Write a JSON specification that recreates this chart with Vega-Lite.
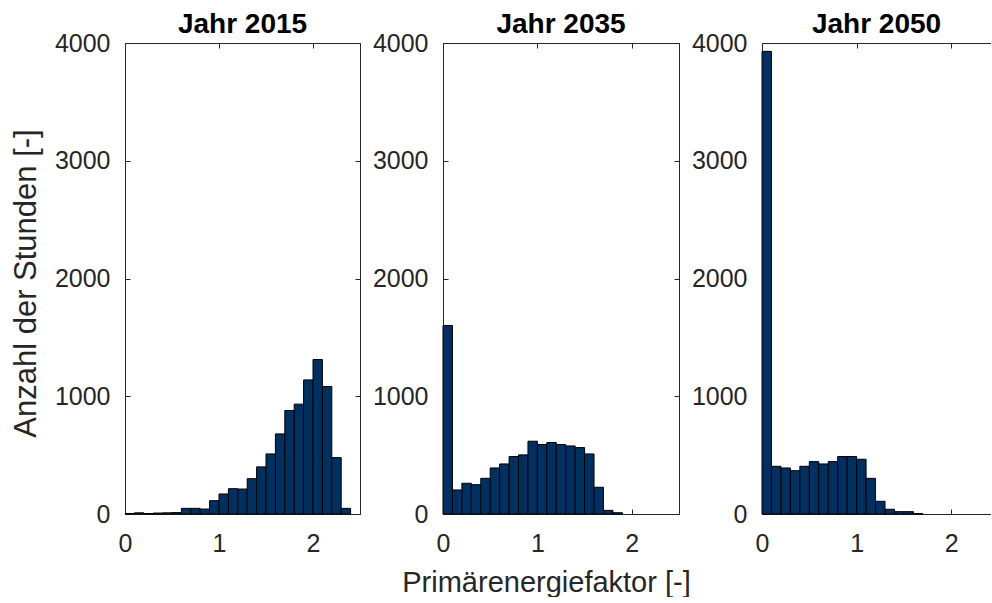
{
  "$schema": "https://vega.github.io/schema/vega-lite/v6.json",
  "padding": {"left": 10, "top": 10, "right": 0, "bottom": 0},
  "autosize": {"type": "pad"},
  "spacing": 83,
  "bounds": "flush",
  "config": {
    "view": {"stroke": null},
    "font": "Liberation Sans",
    "axis": {
      "grid": false,
      "labelFontSize": 25,
      "labelColor": "#262626",
      "labelFont": "Liberation Sans",
      "labelFlush": false,
      "labelOverlap": false,
      "domainColor": "#262626",
      "tickColor": "#262626",
      "domainWidth": 1,
      "tickWidth": 1,
      "tickSize": -5,
      "titleFontSize": 29,
      "titleFontWeight": "normal",
      "titleColor": "#262626",
      "titleFont": "Liberation Sans",
      "format": "d"
    },
    "axisX": {"labelPadding": 22},
    "axisY": {"labelPadding": 20},
    "title": {"fontSize": 28, "fontWeight": "bold", "color": "#000000", "font": "Liberation Sans", "offset": -7.5}
  },
  "data": {
    "values": [
      {"year": 2015, "start": 0.0, "end": 0.1, "count": 4},
      {"year": 2015, "start": 0.1, "end": 0.2, "count": 10},
      {"year": 2015, "start": 0.2, "end": 0.3, "count": 4},
      {"year": 2015, "start": 0.3, "end": 0.4, "count": 8},
      {"year": 2015, "start": 0.4, "end": 0.5, "count": 10},
      {"year": 2015, "start": 0.5, "end": 0.6, "count": 12},
      {"year": 2015, "start": 0.6, "end": 0.7, "count": 48},
      {"year": 2015, "start": 0.7, "end": 0.8, "count": 48},
      {"year": 2015, "start": 0.8, "end": 0.9, "count": 42},
      {"year": 2015, "start": 0.9, "end": 1.0, "count": 113},
      {"year": 2015, "start": 1.0, "end": 1.1, "count": 170},
      {"year": 2015, "start": 1.1, "end": 1.2, "count": 215},
      {"year": 2015, "start": 1.2, "end": 1.3, "count": 212},
      {"year": 2015, "start": 1.3, "end": 1.4, "count": 300},
      {"year": 2015, "start": 1.4, "end": 1.5, "count": 400},
      {"year": 2015, "start": 1.5, "end": 1.6, "count": 510},
      {"year": 2015, "start": 1.6, "end": 1.7, "count": 680},
      {"year": 2015, "start": 1.7, "end": 1.8, "count": 879},
      {"year": 2015, "start": 1.8, "end": 1.9, "count": 933},
      {"year": 2015, "start": 1.9, "end": 2.0, "count": 1139},
      {"year": 2015, "start": 2.0, "end": 2.1, "count": 1312},
      {"year": 2015, "start": 2.1, "end": 2.2, "count": 1083},
      {"year": 2015, "start": 2.2, "end": 2.3, "count": 479},
      {"year": 2015, "start": 2.3, "end": 2.4, "count": 48},
      {"year": 2035, "start": 0.0, "end": 0.1, "count": 1601},
      {"year": 2035, "start": 0.1, "end": 0.2, "count": 204},
      {"year": 2035, "start": 0.2, "end": 0.3, "count": 261},
      {"year": 2035, "start": 0.3, "end": 0.4, "count": 249},
      {"year": 2035, "start": 0.4, "end": 0.5, "count": 303},
      {"year": 2035, "start": 0.5, "end": 0.6, "count": 391},
      {"year": 2035, "start": 0.6, "end": 0.7, "count": 425},
      {"year": 2035, "start": 0.7, "end": 0.8, "count": 488},
      {"year": 2035, "start": 0.8, "end": 0.9, "count": 502},
      {"year": 2035, "start": 0.9, "end": 1.0, "count": 618},
      {"year": 2035, "start": 1.0, "end": 1.1, "count": 590},
      {"year": 2035, "start": 1.1, "end": 1.2, "count": 607},
      {"year": 2035, "start": 1.2, "end": 1.3, "count": 590},
      {"year": 2035, "start": 1.3, "end": 1.4, "count": 578},
      {"year": 2035, "start": 1.4, "end": 1.5, "count": 564},
      {"year": 2035, "start": 1.5, "end": 1.6, "count": 510},
      {"year": 2035, "start": 1.6, "end": 1.7, "count": 227},
      {"year": 2035, "start": 1.7, "end": 1.8, "count": 31},
      {"year": 2035, "start": 1.8, "end": 1.9, "count": 11},
      {"year": 2050, "start": 0.0, "end": 0.1, "count": 3929},
      {"year": 2050, "start": 0.1, "end": 0.2, "count": 405},
      {"year": 2050, "start": 0.2, "end": 0.3, "count": 391},
      {"year": 2050, "start": 0.3, "end": 0.4, "count": 368},
      {"year": 2050, "start": 0.4, "end": 0.5, "count": 405},
      {"year": 2050, "start": 0.5, "end": 0.6, "count": 445},
      {"year": 2050, "start": 0.6, "end": 0.7, "count": 425},
      {"year": 2050, "start": 0.7, "end": 0.8, "count": 445},
      {"year": 2050, "start": 0.8, "end": 0.9, "count": 488},
      {"year": 2050, "start": 0.9, "end": 1.0, "count": 488},
      {"year": 2050, "start": 1.0, "end": 1.1, "count": 465},
      {"year": 2050, "start": 1.1, "end": 1.2, "count": 303},
      {"year": 2050, "start": 1.2, "end": 1.3, "count": 108},
      {"year": 2050, "start": 1.3, "end": 1.4, "count": 40},
      {"year": 2050, "start": 1.4, "end": 1.5, "count": 20},
      {"year": 2050, "start": 1.5, "end": 1.6, "count": 20},
      {"year": 2050, "start": 1.6, "end": 1.7, "count": 3}
    ]
  },
  "hconcat": [
    {
      "width": 235,
      "height": 471,
      "title": "Jahr 2015",
      "transform": [{"filter": "datum.year == 2015"}],
      "layer": [
        {
          "mark": {"type": "bar", "fill": "#003060", "stroke": "#000000", "strokeWidth": 1},
          "encoding": {
            "x": {"field": "start", "type": "quantitative", "scale": {"domain": [0, 2.5], "nice": false}, "axis": {"orient": "bottom", "values": [0, 1, 2], "title": null}},
            "x2": {"field": "end"},
            "y": {"field": "count", "type": "quantitative", "scale": {"domain": [0, 4000], "nice": false}, "axis": {"orient": "left", "values": [0, 1000, 2000, 3000, 4000], "title": "Anzahl der Stunden [-]", "titlePadding": 12, "titleFontSize": 31, "titleY": 240}},
            "y2": {"datum": 0}
          }
        },
        {
          "mark": {"type": "bar", "opacity": 0},
          "encoding": {
            "x": {"field": "start", "type": "quantitative", "scale": {"domain": [0, 2.5], "nice": false}, "axis": {"orient": "top", "values": [0, 1, 2], "labels": false, "title": null}},
            "x2": {"field": "end"},
            "y": {"field": "count", "type": "quantitative", "scale": {"domain": [0, 4000], "nice": false}, "axis": {"orient": "right", "values": [0, 1000, 2000, 3000, 4000], "labels": false, "title": null}},
            "y2": {"datum": 0}
          }
        }
      ],
      "resolve": {"axis": {"x": "independent", "y": "independent"}}
    },
    {
      "width": 236,
      "height": 471,
      "title": "Jahr 2035",
      "transform": [{"filter": "datum.year == 2035"}],
      "layer": [
        {
          "mark": {"type": "bar", "fill": "#003060", "stroke": "#000000", "strokeWidth": 1},
          "encoding": {
            "x": {"field": "start", "type": "quantitative", "scale": {"domain": [0, 2.5], "nice": false}, "axis": {"orient": "bottom", "values": [0, 1, 2], "title": "Primärenergiefaktor [-]", "titleX": 103, "titleAlign": "center", "titlePadding": 12}},
            "x2": {"field": "end"},
            "y": {"field": "count", "type": "quantitative", "scale": {"domain": [0, 4000], "nice": false}, "axis": {"orient": "left", "values": [0, 1000, 2000, 3000, 4000], "title": null}},
            "y2": {"datum": 0}
          }
        },
        {
          "mark": {"type": "bar", "opacity": 0},
          "encoding": {
            "x": {"field": "start", "type": "quantitative", "scale": {"domain": [0, 2.5], "nice": false}, "axis": {"orient": "top", "values": [0, 1, 2], "labels": false, "title": null}},
            "x2": {"field": "end"},
            "y": {"field": "count", "type": "quantitative", "scale": {"domain": [0, 4000], "nice": false}, "axis": {"orient": "right", "values": [0, 1000, 2000, 3000, 4000], "labels": false, "title": null}},
            "y2": {"datum": 0}
          }
        }
      ],
      "resolve": {"axis": {"x": "independent", "y": "independent"}}
    },
    {
      "width": 229,
      "height": 471,
      "title": "Jahr 2050",
      "transform": [{"filter": "datum.year == 2050"}],
      "layer": [
        {
          "mark": {"type": "bar", "fill": "#003060", "stroke": "#000000", "strokeWidth": 1},
          "encoding": {
            "x": {"field": "start", "type": "quantitative", "scale": {"domain": [0, 2.42], "nice": false}, "axis": {"orient": "bottom", "values": [0, 1, 2], "title": null}},
            "x2": {"field": "end"},
            "y": {"field": "count", "type": "quantitative", "scale": {"domain": [0, 4000], "nice": false}, "axis": {"orient": "left", "values": [0, 1000, 2000, 3000, 4000], "title": null}},
            "y2": {"datum": 0}
          }
        },
        {
          "mark": {"type": "bar", "opacity": 0},
          "encoding": {
            "x": {"field": "start", "type": "quantitative", "scale": {"domain": [0, 2.42], "nice": false}, "axis": {"orient": "top", "values": [0, 1, 2], "labels": false, "title": null}},
            "x2": {"field": "end"},
            "y": {"field": "count", "type": "quantitative", "scale": {"domain": [0, 4000], "nice": false}, "axis": null},
            "y2": {"datum": 0}
          }
        }
      ],
      "resolve": {"axis": {"x": "independent", "y": "independent"}}
    }
  ]
}
